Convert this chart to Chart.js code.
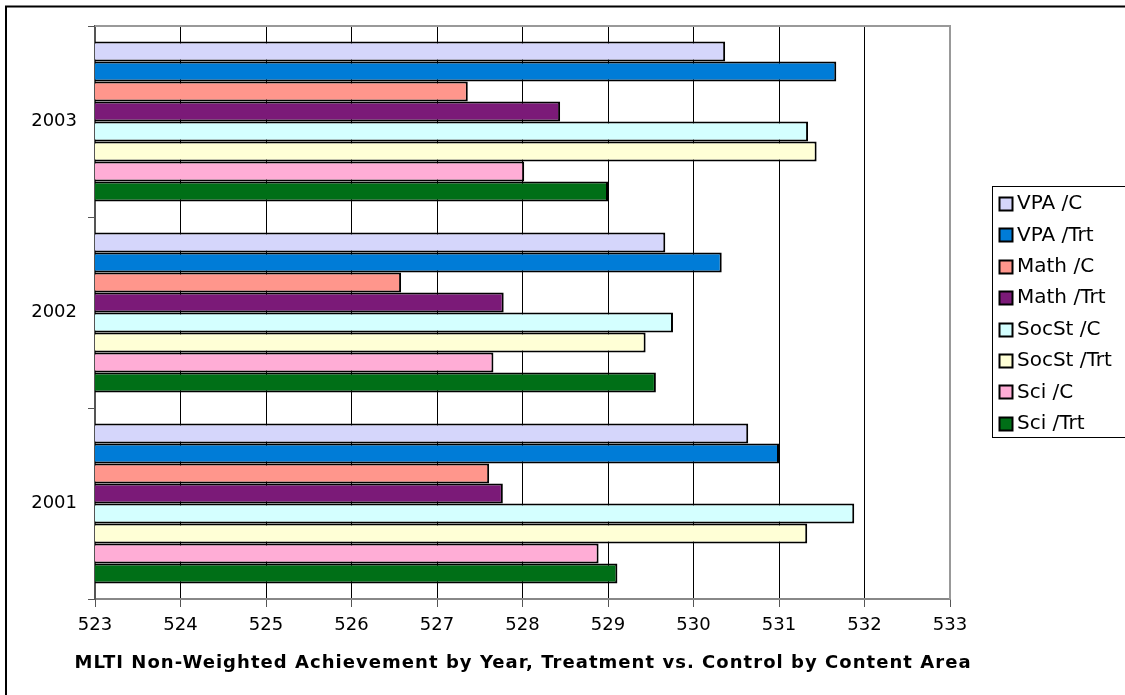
<!DOCTYPE html>
<html>
<head>
<meta charset="utf-8">
<script src="https://cdn.jsdelivr.net/npm/chart.js@4/dist/chart.umd.min.js"></script>
<style>
  html, body { margin: 0; padding: 0; background: #ffffff; }
  #wrap { width: 1125px; height: 695px; position: relative; overflow: hidden; }
  canvas { display: block; }
</style>
</head>
<body>
<div id="wrap"><canvas id="chart" width="1125" height="695"></canvas></div>
<script>
// Years (top to bottom) and the eight content-area / group series
const years = ['2003', '2002', '2001'];
const seriesNames = ['VPA /C', 'VPA /Trt', 'Math /C', 'Math /Trt', 'SocSt /C', 'SocSt /Trt', 'Sci /C', 'Sci /Trt'];

// Mean scale scores per year, in the order of `years`
const vpaC     = [530.37, 529.67, 530.64];
const vpaTrt   = [531.67, 530.33, 531.00];
const mathC    = [527.36, 526.58, 527.61];
const mathTrt  = [528.44, 527.78, 527.77];
const socStC   = [531.34, 529.76, 531.88];
const socStTrt = [531.44, 529.44, 531.33];
const sciC     = [528.02, 527.66, 528.89];
const sciTrt   = [529.00, 529.56, 529.11];

// Value axis range
const axisMin = 523;
const axisMax = 533;

const chartTitle = 'MLTI Non-Weighted Achievement by Year, Treatment vs. Control by Content Area';

const seriesValues = [vpaC, vpaTrt, mathC, mathTrt, socStC, socStTrt, sciC, sciTrt];
const seriesColors = ['#D5D6FB', '#007CD7', '#FF968C', '#7B1A78', '#D4FFFF', '#FFFFD6', '#FFADD6', '#006F17'];

const FONT = 'Verdana, "DejaVu Sans", sans-serif';

// Outer frame, plot border, title and the legend box on the right
const decorations = {
  id: 'decorations',
  beforeDraw(chart) {
    const ctx = chart.ctx;
    ctx.save();
    ctx.fillStyle = '#ffffff';
    ctx.fillRect(0, 0, chart.width, chart.height);
    ctx.restore();
  },
  afterDraw(chart) {
    const ctx = chart.ctx;
    const a = chart.chartArea;
    ctx.save();
    // plot area border (top and right)
    ctx.strokeStyle = '#999999';
    ctx.lineWidth = 2;
    ctx.beginPath();
    ctx.moveTo(a.left, a.top);
    ctx.lineTo(a.right, a.top);
    ctx.lineTo(a.right, a.bottom);
    ctx.stroke();

    // outer frame
    ctx.strokeStyle = '#000000';
    ctx.lineWidth = 2;
    ctx.strokeRect(6, 6.5, 1200, 800);

    // title under the value axis, spread to the plot width
    ctx.font = 'bold 18px ' + FONT;
    ctx.fillStyle = '#000000';
    ctx.textAlign = 'left';
    ctx.textBaseline = 'middle';
    const targetW = 896;
    const plainW = ctx.measureText(chartTitle).width;
    const spacing = Math.max(0, (targetW - plainW) / (chartTitle.length - 1));
    ctx.letterSpacing = spacing.toFixed(2) + 'px';
    const cx = (a.left + a.right) / 2;
    ctx.fillText(chartTitle, cx - targetW / 2, 663);
    ctx.letterSpacing = '0px';

    // legend
    const lx = 992.5, ly = 186.5, lw = 200, lh = 251;
    ctx.strokeStyle = '#000000';
    ctx.lineWidth = 1;
    ctx.strokeRect(lx, ly, lw, lh);
    ctx.font = '20px ' + FONT;
    ctx.textBaseline = 'middle';
    ctx.textAlign = 'left';
    chart.data.datasets.forEach((ds, i) => {
      const cy = 203 + i * 31.4;
      ctx.fillStyle = ds.backgroundColor;
      ctx.fillRect(999.5, Math.round(cy - 6) + 0.5, 13, 13);
      ctx.lineWidth = 2;
      ctx.strokeStyle = '#000000';
      ctx.strokeRect(999.5, Math.round(cy - 6) + 0.5, 13, 13);
      ctx.fillStyle = '#000000';
      ctx.fillText(ds.label, 1017, cy + 1);
    });
    ctx.restore();
  }
};

new Chart(document.getElementById('chart'), {
  type: 'bar',
  data: {
    labels: years,
    datasets: seriesNames.map((name, i) => ({
      label: name,
      data: seriesValues[i],
      backgroundColor: seriesColors[i],
      borderColor: '#000000',
      borderWidth: 2,
      borderSkipped: false,
      barPercentage: 1.0,
      categoryPercentage: 0.838
    }))
  },
  options: {
    indexAxis: 'y',
    responsive: false,
    animation: false,
    devicePixelRatio: 1,
    layout: { padding: { left: 0, top: 26, right: 175, bottom: 0 } },
    plugins: {
      legend: { display: false },
      tooltip: { enabled: false },
      title: { display: false }
    },
    scales: {
      x: {
        type: 'linear',
        min: axisMin,
        max: axisMax,
        base: axisMin,
        ticks: {
          stepSize: 1,
          color: '#000000',
          font: { family: FONT, size: 18 },
          padding: 8,
          maxRotation: 0
        },
        grid: {
          color: '#000000',
          lineWidth: 1,
          drawTicks: true,
          tickLength: 8,
          tickColor: '#555555'
        },
        border: { display: true, color: '#888888', width: 2 },
        title: { display: false },
        afterFit(scale) { scale.height = 96; }
      },
      y: {
        type: 'category',
        offset: true,
        ticks: {
          color: '#000000',
          font: { family: FONT, size: 18 },
          padding: 11
        },
        grid: {
          offset: true,
          drawOnChartArea: false,
          drawTicks: true,
          tickLength: 7,
          tickColor: '#555555'
        },
        border: { display: true, color: '#555555', width: 2 },
        afterFit(scale) { scale.width = 95; }
      }
    }
  },
  plugins: [decorations]
});
</script>
</body>
</html>
